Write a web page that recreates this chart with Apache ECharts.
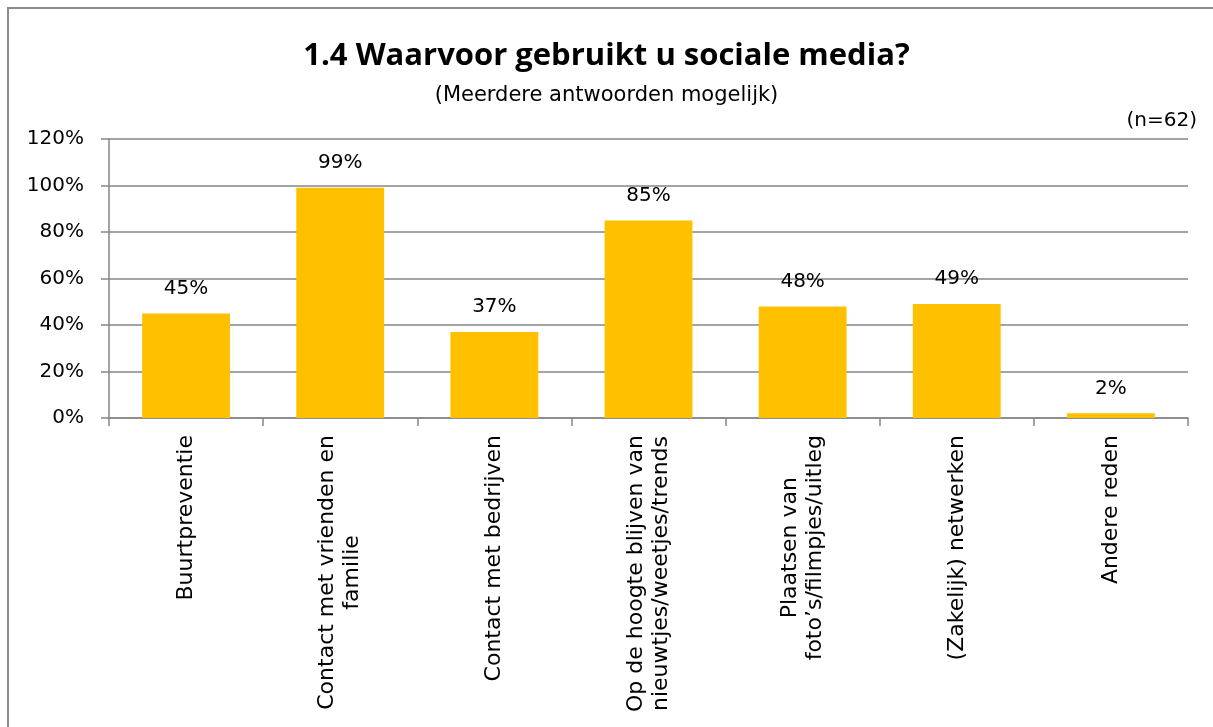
<!DOCTYPE html>
<html>
<head>
<meta charset="utf-8">
<script src="https://cdn.jsdelivr.net/npm/echarts@6/dist/echarts.min.js"></script>
<style>
html,body{margin:0;padding:0;background:#fff;}
#frame{position:absolute;left:7px;top:7px;width:1300px;height:800px;border-left:2px solid #8c8c8c;border-top:2px solid #8c8c8c;box-sizing:border-box;}
#chart{position:absolute;left:0;top:0;width:1213px;height:727px;}
</style>
</head>
<body>
<div id="frame"></div>
<div id="chart"></div>
<script>
const titleText = '1.4 Waarvoor gebruikt u sociale media?';
const subtitleText = '(Meerdere antwoorden mogelijk)';
const noteText = '(n=62)';
const categories = [
  'Buurtpreventie',
  'Contact met vrienden en\nfamilie',
  'Contact met bedrijven',
  'Op de hoogte blijven van\nnieuwtjes/weetjes/trends',
  'Plaatsen van\nfoto\u2019s/filmpjes/uitleg',
  '(Zakelijk) netwerken',
  'Andere reden'
];
const values = [45, 99, 37, 85, 48, 49, 2];
const yTicks = [0, 20, 40, 60, 80, 100, 120];

const FONT = 'DejaVu Sans';
const TFONT = 'Open Sans';
const chart = echarts.init(document.getElementById('chart'), null, {renderer: 'canvas'});
chart.setOption({
  animation: false,
  backgroundColor: 'transparent',
  title: [
    {text: titleText, left: 'center', top: 36, textStyle: {fontFamily: TFONT, fontWeight: 'bold', fontSize: 31, color: '#000'}},
    {text: subtitleText, left: 'center', top: 80, textStyle: {fontFamily: FONT, fontWeight: 'normal', fontSize: 21, color: '#000'}},
    {text: noteText, right: 11, top: 106, textStyle: {fontFamily: FONT, fontWeight: 'normal', fontSize: 20, color: '#000'}}
  ],
  grid: {left: 109, right: 25, top: 139, bottom: 309, containLabel: false},
  xAxis: {
    type: 'category',
    data: categories,
    axisLine: {show: true, lineStyle: {color: '#868686', width: 1.5}},
    axisTick: {show: true, length: 8, lineStyle: {color: '#868686', width: 1.5}},
    axisLabel: {
      interval: 0, rotate: 90, margin: 17,
      fontFamily: FONT, fontSize: 22, color: '#000', lineHeight: 25,
      formatter: v => v.split('\n').map(l => '{a|' + l + '}').join('\n'),
      rich: {a: {align: 'center', fontFamily: FONT, fontSize: 22, lineHeight: 25, color: '#000'}}
    }
  },
  yAxis: {
    type: 'value', min: yTicks[0], max: yTicks[yTicks.length - 1], interval: 20,
    axisLine: {show: true, lineStyle: {color: '#868686', width: 1.5}},
    axisTick: {show: true, length: 8, lineStyle: {color: '#868686', width: 1.5}},
    splitLine: {show: true, lineStyle: {color: '#868686', width: 1.5}},
    axisLabel: {margin: 25, fontFamily: FONT, fontSize: 20, color: '#000', formatter: v => v + '%'}
  },
  series: [{
    type: 'bar',
    data: values,
    barCategoryGap: '43%',
    itemStyle: {color: '#FFC000'},
    label: {show: true, position: 'top', distance: 15, fontFamily: FONT, fontSize: 20, color: '#000', formatter: p => p.value + '%'}
  }]
});
</script>
</body>
</html>
